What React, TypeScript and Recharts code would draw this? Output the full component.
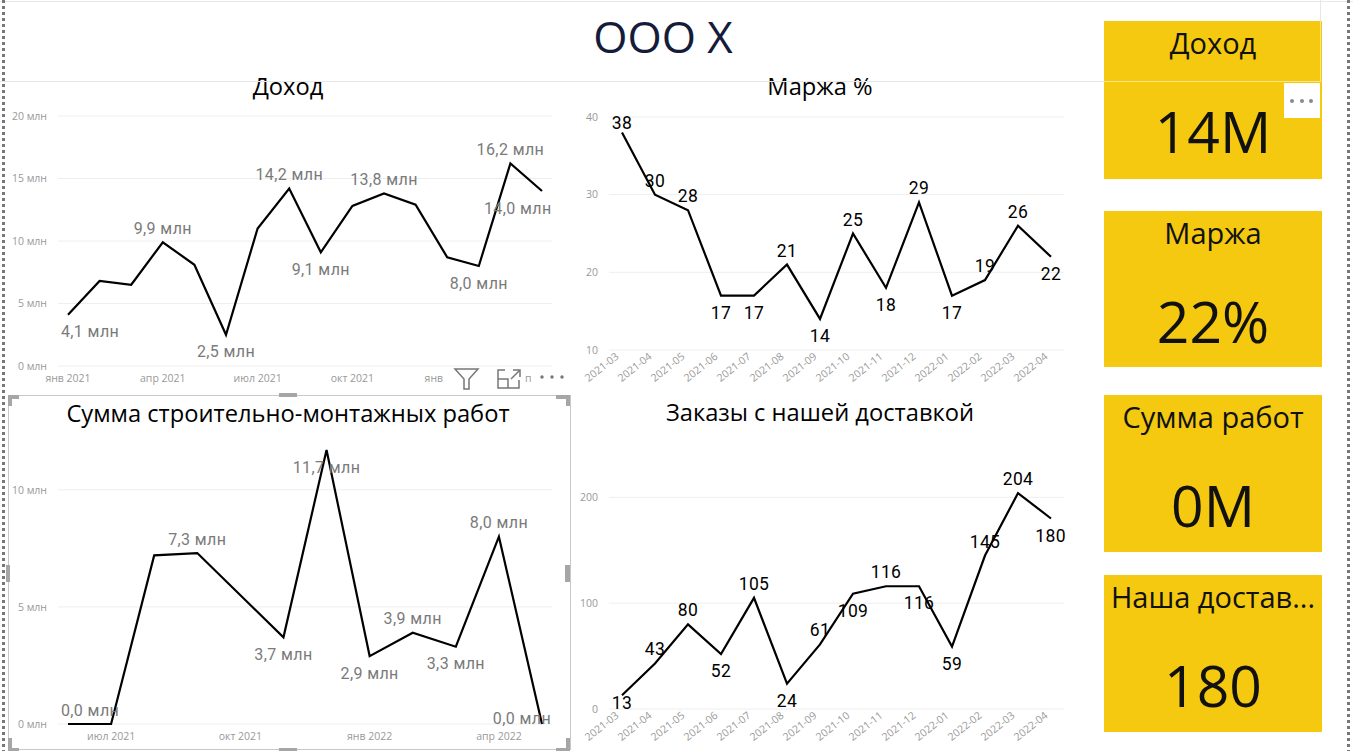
import React from 'react';
import { LineChart, Line, XAxis, YAxis, CartesianGrid } from 'recharts';

const revenueMonths = ['янв 2021', 'фев 2021', 'мар 2021', 'апр 2021', 'май 2021', 'июн 2021', 'июл 2021', 'авг 2021', 'сен 2021', 'окт 2021', 'ноя 2021', 'дек 2021', 'янв 2022', 'фев 2022', 'мар 2022', 'апр 2022'];
const revenueTicks = ['янв 2021', 'апр 2021', 'июл 2021', 'окт 2021', 'янв 2022', 'апр 2022'];
const revenueValues = [4.1, 6.8, 6.5, 9.9, 8.1, 2.5, 11.0, 14.2, 9.1, 12.8, 13.8, 12.9, 8.7, 8.0, 16.2, 14.0];
const revenueSides = ['below', '', '', 'above', '', 'below', '', 'above', 'below', '', 'above', '', '', 'below', 'above', 'below'];

const isoMonths = ['2021-03', '2021-04', '2021-05', '2021-06', '2021-07', '2021-08', '2021-09', '2021-10', '2021-11', '2021-12', '2022-01', '2022-02', '2022-03', '2022-04'];
const marginValues = [38, 30, 28, 17, 17, 21, 14, 25, 18, 29, 17, 19, 26, 22];
const marginSides = ['above', 'above', 'above', 'below', 'below', 'above', 'below', 'above', 'below', 'above', 'below', 'above', 'above', 'below'];

const worksMonths = ['июн 2021', 'июл 2021', 'авг 2021', 'сен 2021', 'окт 2021', 'ноя 2021', 'дек 2021', 'янв 2022', 'фев 2022', 'мар 2022', 'апр 2022', 'май 2022'];
const worksTicks = ['июл 2021', 'окт 2021', 'янв 2022', 'апр 2022'];
const worksValues = [0, 0, 7.2, 7.3, null, 3.7, 11.7, 2.9, 3.9, 3.3, 8.0, 0];
const worksSides = ['above', '', '', 'above', '', 'below', 'below', 'below', 'above', 'below', 'above', 'below'];

const ordersValues = [13, 43, 80, 52, 105, 24, 61, 109, 116, 116, 59, 145, 204, 180];
const ordersSides = ['below', 'above', 'above', 'below', 'above', 'below', 'above', 'below', 'above', 'below', 'below', 'above', 'above', 'below'];

const kpiLabels = ['Доход', 'Маржа', 'Сумма работ', 'Наша достав...'];
const kpiValues = ['14M', '22%', '0M', '180'];
const kpiBoxes = [
  { top: 21, height: 158 },
  { top: 211, height: 156 },
  { top: 395, height: 157 },
  { top: 575, height: 157 },
];

const TITLE_FONT = '"Open Sans", sans-serif';
const LABEL_FONT = 'Roboto, sans-serif';
const AXIS_HEIGHT = 26;

const mln = (v: number) => `${v} млн`;
const mlnLabel = (v: number) => `${v.toFixed(1).replace('.', ',')} млн`;

type PanelProps = {
  left: number;
  width: number;
  plotLeft: number;
  plotRight: number;
  plotTop: number;
  plotBottom: number;
  pad: number;
  categories: string[];
  values: (number | null)[];
  sides: string[];
  domain: number[];
  yTicks: number[];
  xTicks?: string[];
  yFormat?: (v: number) => string;
  labelFormat: (v: number) => string;
  labelColor: string;
  labelSize: number;
  rotated?: boolean;
};

const ChartPanel = (p: PanelProps) => {
  const data = p.categories.map((month, i) => ({ month, value: p.values[i] }));
  const axisHeight = p.rotated ? 44 : AXIS_HEIGHT;
  const offsetTop = p.plotTop - 10;

  // labels are drawn as the line's dots so they sit on the library's own points
  const renderLabel = (props: any) => {
    const { cx, cy, index, payload } = props;
    const key = `label-${index}`;
    if (payload.value == null || !p.sides[index] || cx == null || cy == null) return <g key={key} />;
    const text = p.labelFormat(payload.value);
    const half = (text.length * 8.3) / 2;
    const minX = p.plotLeft - p.left + 3 + half;
    const maxX = p.plotRight - p.left - 1 - half;
    const tx = Math.min(Math.max(cx, minX), maxX);
    const raw = p.sides[index] === 'above' ? cy - 14 : cy + 17;
    const ty = Math.min(Math.max(raw, p.plotTop - offsetTop + 6), p.plotBottom - offsetTop - 6);
    return (
      <text
        key={key}
        x={tx}
        y={ty}
        textAnchor="middle"
        dominantBaseline="central"
        fontFamily={LABEL_FONT}
        fontSize={p.labelSize}
        letterSpacing={0.4}
        fill={p.labelColor}
      >
        {text}
      </text>
    );
  };

  return (
    <div style={{ position: 'absolute', left: p.left, top: offsetTop }}>
      <LineChart
        width={p.width}
        height={p.plotBottom - p.plotTop + 10 + axisHeight}
        data={data}
        margin={{ top: 10, right: p.left + p.width - p.plotRight, left: 0, bottom: 0 }}
      >
        <CartesianGrid vertical={false} syncWithTicks stroke="#eeeeee" strokeWidth={1} />
        <XAxis
          dataKey="month"
          scale="point"
          padding={{ left: p.pad, right: p.pad }}
          ticks={p.xTicks}
          interval={0}
          height={axisHeight}
          axisLine={false}
          tickLine={false}
          tickSize={0}
          tickMargin={p.rotated ? 2 : 9}
          angle={p.rotated ? -38 : 0}
          textAnchor={p.rotated ? 'end' : 'middle'}
          tick={{ fontFamily: TITLE_FONT, fontSize: 10.5, fill: '#999999', dx: p.rotated ? -7 : 0 }}
        />
        <YAxis
          width={p.plotLeft - p.left}
          domain={p.domain}
          ticks={p.yTicks}
          interval={0}
          axisLine={false}
          tickLine={false}
          tickSize={0}
          tickMargin={11}
          tickFormatter={p.yFormat}
          tick={{ fontFamily: TITLE_FONT, fontSize: 10.5, fill: '#999999' }}
        />
        <Line
          dataKey="value"
          type="linear"
          stroke="#000000"
          strokeWidth={2.2}
          dot={renderLabel}
          activeDot={false}
          connectNulls
          isAnimationActive={false}
        />
      </LineChart>
    </div>
  );
};

const Title = ({ text, cx, y }: { text: string; cx: number; y: number }) => (
  <div
    style={{
      position: 'absolute',
      left: cx - 280,
      width: 560,
      top: y - 20,
      height: 40,
      lineHeight: '40px',
      textAlign: 'center',
      fontFamily: TITLE_FONT,
      fontSize: 23.7,
      color: '#000000',
      whiteSpace: 'nowrap',
    }}
  >
    {text}
  </div>
);

const Box = ({ x, y, w, h, c }: { x: number; y: number; w: number; h: number; c: string }) => (
  <div style={{ position: 'absolute', left: x, top: y, width: w, height: h, background: c }} />
);

const DottedEdge = ({ x }: { x: number }) => (
  <div
    style={{
      position: 'absolute',
      left: x,
      top: 0,
      width: 3,
      height: 751,
      background: 'repeating-linear-gradient(to bottom, #777777 0 3px, transparent 3px 6px)',
    }}
  />
);

const SelectionFrame = () => {
  const g = '#a6a6a6';
  return (
    <>
      <div style={{ position: 'absolute', left: 8, top: 395, width: 561, height: 353, border: '1px solid #c8c8c8' }} />
      <Box x={8} y={395} w={11} h={4} c={g} />
      <Box x={8} y={395} w={4} h={11} c={g} />
      <Box x={556} y={395} w={14} h={4} c={g} />
      <Box x={566} y={395} w={4} h={11} c={g} />
      <Box x={8} y={748} w={11} h={3} c={g} />
      <Box x={8} y={738} w={4} h={13} c={g} />
      <Box x={556} y={748} w={14} h={3} c={g} />
      <Box x={566} y={738} w={4} h={13} c={g} />
      <Box x={279} y={393} w={18} h={4} c={g} />
      <Box x={279} y={748} w={18} h={3} c={g} />
      <Box x={6} y={565} w={4} h={17} c={g} />
      <Box x={565} y={565} w={5} h={17} c={g} />
    </>
  );
};

const Toolbar = () => (
  <>
    <Box x={446} y={367} w={79} h={24} c="#ffffff" />
    <Box x={531} y={367} w={39} h={24} c="#ffffff" />
    <svg style={{ position: 'absolute', left: 446, top: 366, overflow: 'visible' }} width={124} height={26}>
      <path d="M9 3 H32 L23 13 V23 H18 V13 Z" fill="none" stroke="#777777" strokeWidth={1.5} />
      <path d="M59 4 H52 V22 H73 V14 M52 13 H62 V22 M65 13 L73 5 M67 4 H74 V11" fill="none" stroke="#777777" strokeWidth={1.5} />
      <circle cx={96} cy={11} r={1.7} fill="#777777" />
      <circle cx={106} cy={11} r={1.7} fill="#777777" />
      <circle cx={116} cy={11} r={1.7} fill="#777777" />
    </svg>
  </>
);

const App = () => (
  <div
    style={{
      position: 'absolute',
      left: 0,
      top: 0,
      width: 1353,
      height: 751,
      overflow: 'hidden',
      background: '#ffffff',
    }}
  >
    <ChartPanel
      left={0}
      width={560}
      plotLeft={58}
      plotRight={552}
      plotTop={116}
      plotBottom={366}
      pad={10}
      categories={revenueMonths}
      values={revenueValues}
      sides={revenueSides}
      domain={[0, 20]}
      yTicks={[0, 5, 10, 15, 20]}
      xTicks={revenueTicks}
      yFormat={mln}
      labelFormat={mlnLabel}
      labelColor="#7a7a7a"
      labelSize={16}
    />
    <ChartPanel
      left={570}
      width={504}
      plotLeft={609}
      plotRight={1064}
      plotTop={117}
      plotBottom={350}
      pad={13}
      categories={isoMonths}
      values={marginValues}
      sides={marginSides}
      domain={[10, 40]}
      yTicks={[10, 20, 30, 40]}
      xTicks={isoMonths}
      labelFormat={(v) => String(v)}
      labelColor="#000000"
      labelSize={17.5}
      rotated
    />
    <ChartPanel
      left={0}
      width={560}
      plotLeft={58}
      plotRight={552}
      plotTop={443}
      plotBottom={724}
      pad={10}
      categories={worksMonths}
      values={worksValues}
      sides={worksSides}
      domain={[0, 12]}
      yTicks={[0, 5, 10]}
      xTicks={worksTicks}
      yFormat={mln}
      labelFormat={mlnLabel}
      labelColor="#7a7a7a"
      labelSize={16}
    />
    <ChartPanel
      left={570}
      width={504}
      plotLeft={609}
      plotRight={1064}
      plotTop={455}
      plotBottom={709}
      pad={13}
      categories={isoMonths}
      values={ordersValues}
      sides={ordersSides}
      domain={[0, 240]}
      yTicks={[0, 100, 200]}
      xTicks={isoMonths}
      labelFormat={(v) => String(v)}
      labelColor="#000000"
      labelSize={17.5}
      rotated
    />

    <div
      style={{
        position: 'absolute',
        left: 463,
        width: 400,
        top: 6,
        height: 60,
        lineHeight: '60px',
        textAlign: 'center',
        fontFamily: TITLE_FONT,
        fontSize: 44,
        color: '#151b3a',
      }}
    >
      ООО X
    </div>
    <Title text="Доход" cx={288} y={86} />
    <Title text="Маржа %" cx={820} y={86} />
    <Title text="Сумма строительно-монтажных работ" cx={288} y={413} />
    <Title text="Заказы с нашей доставкой" cx={820} y={412} />

    {kpiBoxes.map((b, i) => (
      <div
        key={kpiLabels[i]}
        style={{
          position: 'absolute',
          left: 1104,
          top: b.top,
          width: 218,
          height: b.height,
          background: '#f4c90f',
          color: '#111111',
          fontFamily: TITLE_FONT,
          textAlign: 'center',
          whiteSpace: 'nowrap',
          overflow: 'hidden',
        }}
      >
        <div style={{ position: 'absolute', left: 0, right: 0, top: 0, height: 44, lineHeight: '44px', fontSize: 29 }}>
          {kpiLabels[i]}
        </div>
        <div style={{ position: 'absolute', left: 0, right: 0, top: 68, height: 84, lineHeight: '84px', fontSize: 57 }}>
          {kpiValues[i]}
        </div>
      </div>
    ))}

    <Box x={0} y={1} w={1353} h={1} c="#e8e8e8" />
    <Box x={0} y={81} w={1104} h={1} c="#e6e6e6" />
    <Box x={1320} y={0} w={1} h={21} c="#e6e6e6" />
    <Box x={1104} y={81} w={217} h={1} c="#f9e68a" />
    <Box x={1320} y={21} w={1} h={60} c="#f9e68a" />
    <Box x={1284} y={83} w={36} h={35} c="#ffffff" />
    {[1292, 1302, 1311].map((x) => (
      <div key={x} style={{ position: 'absolute', left: x - 2, top: 99, width: 4, height: 4, borderRadius: 2, background: '#8a8a8a' }} />
    ))}
    <DottedEdge x={2} />
    <DottedEdge x={1347} />

    <SelectionFrame />
    <Toolbar />
  </div>
);

export default App;
